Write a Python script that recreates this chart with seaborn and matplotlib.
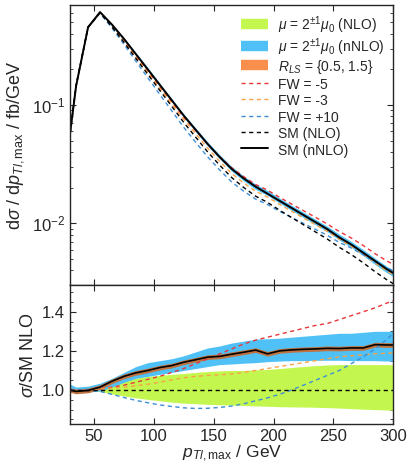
import numpy as np
import matplotlib
matplotlib.use("Agg")
import matplotlib.pyplot as plt
import seaborn as sns
from matplotlib.lines import Line2D
from matplotlib.ticker import MultipleLocator, LogLocator, NullFormatter

# pT bins (GeV)
pt = [30, 35, 45, 55, 65, 75, 85, 95, 105, 115, 125, 135, 145, 155, 165,
      175, 185, 195, 205, 215, 225, 235, 245, 255, 265, 275, 285, 295, 300]

# log10 of dsigma/dpT for SM (nNLO), fb/GeV
log_sm_nnlo = [-1.237, -0.839, -0.342, -0.214, -0.32, -0.44, -0.57, -0.70, -0.83,
               -0.96, -1.09, -1.21, -1.33, -1.44, -1.54, -1.62, -1.69, -1.75,
               -1.81, -1.87, -1.93, -1.99, -2.05, -2.12, -2.18, -2.25, -2.32,
               -2.39, -2.42]

# ratios to SM NLO
r_sm_nnlo = [1.0, 0.993, 0.998, 1.015, 1.045, 1.07, 1.088, 1.10, 1.115, 1.125,
             1.142, 1.155, 1.168, 1.172, 1.183, 1.193, 1.204, 1.185, 1.20, 1.205,
             1.208, 1.21, 1.213, 1.212, 1.215, 1.215, 1.232, 1.23, 1.23]
r_fw_m5 = [1.0, 1.0, 1.0, 1.005, 1.015, 1.025, 1.04, 1.055, 1.07, 1.09, 1.11,
           1.135, 1.16, 1.185, 1.21, 1.235, 1.255, 1.27, 1.285, 1.30, 1.315,
           1.33, 1.34, 1.36, 1.38, 1.40, 1.42, 1.445, 1.455]
r_fw_m3 = [1.0, 1.0, 1.0, 1.005, 1.01, 1.015, 1.022, 1.03, 1.04, 1.052, 1.063,
           1.07, 1.075, 1.078, 1.082, 1.09, 1.10, 1.11, 1.12, 1.13, 1.14, 1.15,
           1.16, 1.17, 1.175, 1.18, 1.185, 1.188, 1.19]
r_fw_p10 = [1.0, 1.0, 1.0, 0.993, 0.978, 0.962, 0.947, 0.935, 0.924, 0.916,
            0.909, 0.906, 0.907, 0.911, 0.918, 0.93, 0.945, 0.96, 0.978, 1.0,
            1.025, 1.05, 1.075, 1.10, 1.135, 1.17, 1.21, 1.26, 1.29]

# scale bands (ratio to SM NLO)
nlo_lo = [0.995, 0.99, 0.995, 0.993, 0.98, 0.97, 0.96, 0.952, 0.945, 0.938,
          0.933, 0.93, 0.927, 0.925, 0.923, 0.921, 0.919, 0.917, 0.915, 0.914,
          0.913, 0.912, 0.91, 0.908, 0.905, 0.902, 0.90, 0.898, 0.897]
nlo_hi = [1.01, 1.005, 1.0, 1.01, 1.035, 1.05, 1.06, 1.07, 1.075, 1.08, 1.085,
          1.09, 1.095, 1.098, 1.10, 1.10, 1.103, 1.105, 1.11, 1.115, 1.12,
          1.125, 1.128, 1.13, 1.13, 1.13, 1.13, 1.13, 1.128]
nnlo_lo = [0.99, 0.985, 0.99, 0.995, 1.015, 1.04, 1.06, 1.07, 1.08, 1.09, 1.10,
           1.11, 1.12, 1.13, 1.133, 1.137, 1.14, 1.145, 1.148, 1.15, 1.15,
           1.152, 1.152, 1.152, 1.15, 1.15, 1.15, 1.148, 1.148]
nnlo_hi = [1.03, 1.015, 1.02, 1.035, 1.06, 1.09, 1.12, 1.14, 1.15, 1.16, 1.175,
           1.195, 1.215, 1.225, 1.24, 1.25, 1.26, 1.262, 1.265, 1.27, 1.275,
           1.28, 1.285, 1.29, 1.29, 1.295, 1.30, 1.30, 1.30]
rls_halfwidth = 0.012

c_green = '#c3f74f'
c_blue = '#4fc1f7'
c_orange = '#f98f4c'
c_red = '#e8363a'
c_yel = '#f9a447'
c_lblue = '#3d8fd6'

sns.set_style('ticks')
plt.rcParams['font.family'] = ['Liberation Sans', 'DejaVu Sans']
plt.rcParams['mathtext.fontset'] = 'custom'
plt.rcParams['mathtext.rm'] = 'Liberation Sans'
plt.rcParams['mathtext.it'] = 'Liberation Sans:italic'
plt.rcParams['mathtext.sf'] = 'Liberation Sans'

x = np.array(pt, dtype=float)
sm_nnlo = 10 ** np.array(log_sm_nnlo)
r_nnlo = np.array(r_sm_nnlo)
sm_nlo = sm_nnlo / r_nnlo

fig, (ax, axr) = plt.subplots(2, 1, figsize=(4.10, 4.63), dpi=100, sharex=True,
                              gridspec_kw={'height_ratios': [280, 139], 'hspace': 0})
fig.subplots_adjust(left=0.171, right=0.959, top=0.989, bottom=0.084)

# top panel
ax.fill_between(x, sm_nlo * np.array(nnlo_lo), sm_nlo * np.array(nnlo_hi),
                color=c_blue, lw=0)
ax.fill_between(x, sm_nnlo * (1 - rls_halfwidth), sm_nnlo * (1 + rls_halfwidth),
                color=c_orange, lw=0)
dash = (3, 2.5)
for r, c in [(r_fw_m5, c_red), (r_fw_m3, c_yel), (r_fw_p10, c_lblue)]:
    sns.lineplot(x=x, y=sm_nlo * np.array(r), ax=ax, color=c, lw=1.0)
    ax.lines[-1].set_dashes(dash)
sns.lineplot(x=x, y=sm_nlo, ax=ax, color='black', lw=1.0)
ax.lines[-1].set_dashes(dash)
sns.lineplot(x=x, y=sm_nnlo, ax=ax, color='black', lw=1.4)

ax.set_yscale('log')
ax.set_ylim(0.003, 0.70)
ax.set_xlim(30, 300)
ax.set_ylabel(r'd$\sigma$ / d$p_{Tl,\mathrm{max}}$ / fb/GeV', fontsize=13)
ax.yaxis.set_minor_locator(LogLocator(base=10, subs=np.arange(2, 10)))
ax.yaxis.set_minor_formatter(NullFormatter())

# band swatches as thick butt-capped lines so all rows share one height
sw = dict(lw=7.5, solid_capstyle='butt')
handles = [
    Line2D([], [], color=c_green, label=r'$\mu$ = 2$^{\pm 1}\mu_0$ (NLO)', **sw),
    Line2D([], [], color=c_blue, label=r'$\mu$ = 2$^{\pm 1}\mu_0$ (nNLO)', **sw),
    Line2D([], [], color=c_orange, label=r'$R_{LS}$ = {0.5, 1.5}', **sw),
    Line2D([], [], color=c_red, lw=1.0, dashes=dash, label='FW = -5'),
    Line2D([], [], color=c_yel, lw=1.0, dashes=dash, label='FW = -3'),
    Line2D([], [], color=c_lblue, lw=1.0, dashes=dash, label='FW = +10'),
    Line2D([], [], color='black', lw=1.0, dashes=dash, label='SM (NLO)'),
    Line2D([], [], color='black', lw=1.4, label='SM (nNLO)'),
]
ax.legend(handles=handles, loc='upper left', frameon=False, fontsize=10,
          handlelength=1.9, handleheight=1.45, labelspacing=0.0,
          borderaxespad=0.0, borderpad=0.0, handletextpad=0.75,
          bbox_to_anchor=(0.53, 0.965))

# ratio panel
axr.fill_between(x, nlo_lo, nlo_hi, color=c_green, lw=0)
axr.fill_between(x, nnlo_lo, nnlo_hi, color=c_blue, lw=0)
axr.fill_between(x, r_nnlo - rls_halfwidth, r_nnlo + rls_halfwidth,
                 color='#c0733f', lw=0)
for r, c in [(r_fw_m5, c_red), (r_fw_m3, c_yel), (r_fw_p10, c_lblue)]:
    sns.lineplot(x=x, y=r, ax=axr, color=c, lw=1.0)
    axr.lines[-1].set_dashes(dash)
axr.axhline(1.0, color='black', lw=1.0, dashes=dash)
sns.lineplot(x=x, y=r_nnlo, ax=axr, color='black', lw=1.2)

axr.set_ylim(0.826, 1.536)
axr.set_xlim(30, 300)
axr.yaxis.set_minor_locator(MultipleLocator(0.05))
axr.set_yticks([1.0, 1.2, 1.4])
axr.set_yticklabels(['1.0', '1.2', '1.4'])
axr.xaxis.set_major_locator(MultipleLocator(50))
axr.set_ylabel(r'$\sigma$/SM NLO', fontsize=13)
axr.set_xlabel(r'$p_{Tl,\mathrm{max}}$ / GeV', fontsize=12.5, labelpad=0)

for a in (ax, axr):
    a.tick_params(which='both', direction='in', top=True, right=True, labelsize=12)
    a.tick_params(which='major', length=4, width=0.8)
    a.tick_params(which='minor', length=2, width=0.6)
    for s in a.spines.values():
        s.set_linewidth(1.0)

fig.savefig('out.png', dpi=100)
